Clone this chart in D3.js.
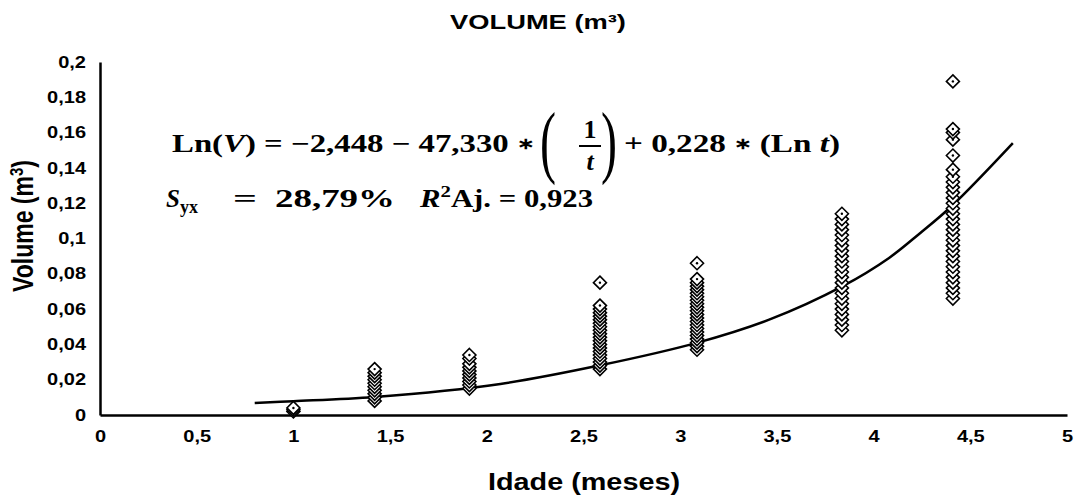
<!DOCTYPE html>
<html>
<head>
<meta charset="utf-8">
<script src="https://cdn.jsdelivr.net/npm/d3@7"></script>
<style>
  body { margin: 0; background: #fff; }
  svg { display: block; }
  .tick text { font-family: "Liberation Sans", Arial, sans-serif; font-weight: bold; }
  .eq { font-family: "Liberation Serif", "Times New Roman", serif; font-weight: bold; fill: #000; }
</style>
</head>
<body>
<div id="chart"></div>
<script>
// ages (months) of each measurement group
const ages = [1.0, 1.42, 1.91, 2.585, 3.087, 3.836, 4.41];
// observed volumes (m3) per group
const volumes = [
  [0.002, 0.003, 0.004],
  [0.008, 0.010, 0.012, 0.014, 0.016, 0.018, 0.020, 0.022, 0.024, 0.026],
  [0.015, 0.017, 0.019, 0.021, 0.023, 0.025, 0.027, 0.029, 0.032, 0.034],
  [0.026, 0.028, 0.030, 0.032, 0.034, 0.036, 0.038, 0.040, 0.042, 0.044, 0.046, 0.048, 0.050, 0.052, 0.054, 0.056, 0.058, 0.060, 0.062, 0.075],
  [0.037, 0.039, 0.041, 0.043, 0.045, 0.047, 0.049, 0.051, 0.053, 0.055, 0.057, 0.059, 0.061, 0.063, 0.065, 0.067, 0.069, 0.071, 0.073, 0.075, 0.077, 0.086],
  [0.048, 0.051, 0.054, 0.057, 0.060, 0.063, 0.066, 0.069, 0.072, 0.075, 0.078, 0.081, 0.084, 0.087, 0.090, 0.093, 0.096, 0.099, 0.102, 0.105, 0.108, 0.111, 0.114],
  [0.066, 0.069, 0.072, 0.075, 0.078, 0.081, 0.084, 0.087, 0.090, 0.093, 0.096, 0.099, 0.102, 0.105, 0.108, 0.111, 0.114, 0.117, 0.120, 0.123, 0.126, 0.129, 0.132, 0.135, 0.139, 0.147, 0.156, 0.160, 0.162, 0.189]
];
// fitted curve
const trendAge = [0.80, 1.0, 1.42, 2.07, 2.58, 3.09, 3.46, 3.84, 4.08, 4.24, 4.41, 4.72];
const trendVolume = [0.0068, 0.0078, 0.0102, 0.0176, 0.028, 0.041, 0.054, 0.073, 0.089, 0.103, 0.119, 0.154];

const xTicks = [0, 0.5, 1, 1.5, 2, 2.5, 3, 3.5, 4, 4.5, 5];
const yTicks = [0, 0.02, 0.04, 0.06, 0.08, 0.1, 0.12, 0.14, 0.16, 0.18, 0.2];

const width = 1075, height = 497;
const margin = {top: 62, right: 8, bottom: 82, left: 100};
// the source picture is stretched sideways, so text gets a horizontal scale
const stretch = 1.25;

const svg = d3.select('#chart').append('svg')
  .attr('width', width)
  .attr('height', height);

const x = d3.scaleLinear().domain([0, 5]).range([margin.left, width - margin.right]);
const y = d3.scaleLinear().domain([0, 0.2]).range([height - margin.bottom, margin.top]);

const fmt = d => String(d).replace('.', ',');

// axes
const xAxis = svg.append('g')
  .attr('transform', `translate(0,${y(0)})`)
  .call(d3.axisBottom(x).tickValues(xTicks).tickFormat(fmt).tickSize(0).tickPadding(16));
xAxis.select('.domain').attr('stroke', '#000').attr('stroke-width', 2.5);
xAxis.selectAll('text').attr('font-size', 16).attr('fill', '#000')
  .attr('transform', `scale(${stretch},1)`);

const yAxis = svg.append('g')
  .attr('transform', `translate(${x(0)},0)`)
  .call(d3.axisLeft(y).tickValues(yTicks).tickFormat(fmt).tickSize(0).tickPadding(14));
yAxis.select('.domain').attr('stroke', '#000').attr('stroke-width', 2.5);
yAxis.selectAll('text').attr('font-size', 16).attr('fill', '#000')
  .attr('x', -14 / stretch)
  .attr('transform', `scale(${stretch},1)`);

// helper: text placed at (px,py) and stretched sideways around that point
function stretchedText(px, py, sx) {
  return svg.append('g')
    .attr('transform', `translate(${px},${py}) scale(${sx},1)`)
    .append('text');
}

// titles
stretchedText(538, 29, 1.3)
  .attr('text-anchor', 'middle')
  .style('font-family', '"Liberation Sans", Arial, sans-serif')
  .style('font-weight', 'bold').style('font-size', '21px')
  .text('VOLUME (m³)');

stretchedText(584, 490, 1.2)
  .attr('text-anchor', 'middle')
  .style('font-family', '"Liberation Sans", Arial, sans-serif')
  .style('font-weight', 'bold').style('font-size', '24px')
  .text('Idade (meses)');

const yTitle = svg.append('g')
  .attr('transform', `translate(33,226) scale(${stretch},1) rotate(-90)`)
  .append('text')
  .attr('text-anchor', 'middle')
  .style('font-family', '"Liberation Sans", Arial, sans-serif')
  .style('font-weight', 'bold').style('font-size', '23px');
yTitle.append('tspan').text('Volume (m');
yTitle.append('tspan').attr('dy', -8).style('font-size', '15px').text('3');
yTitle.append('tspan').attr('dy', 8).text(')');

// trend line
const line = d3.line()
  .x((d, i) => x(trendAge[i]))
  .y(d => y(d))
  .curve(d3.curveCatmullRom);

svg.append('path')
  .datum(trendVolume)
  .attr('d', line)
  .attr('fill', 'none')
  .attr('stroke', '#000')
  .attr('stroke-width', 2.5);

// observations
const points = [];
ages.forEach((a, i) => volumes[i].forEach(v => points.push({age: a, vol: v})));

const marks = svg.append('g').selectAll('g')
  .data(points)
  .join('g')
  .attr('transform', d => `translate(${x(d.age)},${y(d.vol)})`);

marks.append('path')
  .attr('d', 'M0,-6.5L6.5,0L0,6.5L-6.5,0Z')
  .attr('fill', '#fff')
  .attr('stroke', '#000')
  .attr('stroke-width', 1.6);

marks.append('circle')
  .attr('r', 1.2)
  .attr('fill', '#000');

// equation, each piece squeezed into the span it takes in the source
function eqText(px, py, size, len) {
  const t = svg.append('text').attr('class', 'eq')
    .attr('x', px).attr('y', py).style('font-size', size + 'px');
  if (len) t.attr('textLength', len).attr('lengthAdjust', 'spacingAndGlyphs');
  return t;
}

const eq1 = eqText(172, 152, 25, 362);
eq1.append('tspan').text('Ln(');
eq1.append('tspan').style('font-style', 'italic').text('V');
eq1.append('tspan').text(') = −2,448 − 47,330 ');
eq1.append('tspan').attr('dy', -3).style('font-size', '16px').text('∗');

eqText(540, 168, 80, 16).style('font-weight', 'normal').text('(');
eqText(590, 138, 26).attr('text-anchor', 'middle').text('1');
svg.append('line').attr('x1', 579).attr('x2', 601).attr('y1', 146).attr('y2', 146)
  .attr('stroke', '#000').attr('stroke-width', 2);
eqText(590, 170, 26).attr('text-anchor', 'middle').style('font-style', 'italic').text('t');
eqText(601, 168, 80, 16).style('font-weight', 'normal').text(')');

const eq1b = eqText(624, 152, 25, 216);
eq1b.append('tspan').text('+ 0,228 ');
eq1b.append('tspan').attr('dy', -3).style('font-size', '16px').text('∗');
eq1b.append('tspan').attr('dy', 3).text(' (Ln ');
eq1b.append('tspan').style('font-style', 'italic').text('t');
eq1b.append('tspan').text(')');

const sy = eqText(166, 207, 25);
sy.append('tspan').style('font-style', 'italic').text('S');
sy.append('tspan').attr('dy', 6).style('font-size', '18px').text('yx');
eqText(233, 207, 25, 24).text('=');
eqText(275, 207, 25, 120).text('28,79%');
const r2 = eqText(420, 207, 25, 173);
r2.append('tspan').style('font-style', 'italic').text('R');
r2.append('tspan').attr('dy', -10).style('font-size', '17px').text('2');
r2.append('tspan').attr('dy', 10).text('Aj. = 0,923');
</script>
</body>
</html>
